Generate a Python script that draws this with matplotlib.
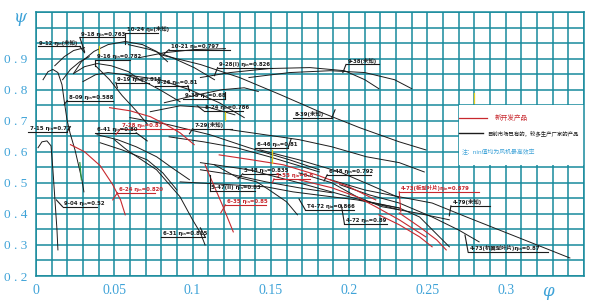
import matplotlib
matplotlib.use('Agg')
import matplotlib.pyplot as plt
import numpy as np

plt.rcParams['font.family'] = ['DejaVu Sans', 'Noto Sans CJK SC']

# fan performance curves (phi, psi)
f912a = ([0.012, 0.018, 0.024, 0.031], [0.877, 0.906, 0.926, 0.935])
f912b = ([0.017, 0.022, 0.028, 0.034], [0.832, 0.865, 0.890, 0.906])
f918 = ([0.024, 0.029, 0.037, 0.046, 0.057, 0.068, 0.077, 0.084],
        [0.852, 0.890, 0.923, 0.945, 0.955, 0.945, 0.923, 0.890])
f916 = ([0.024, 0.031, 0.039, 0.048, 0.059, 0.068], [0.852, 0.874, 0.884, 0.877, 0.858, 0.826])
f916b = ([0.038, 0.047, 0.055, 0.064, 0.071], [0.877, 0.832, 0.781, 0.732, 0.690])
f919 = ([0.030, 0.038, 0.046, 0.057, 0.068, 0.079, 0.092],
        [0.826, 0.848, 0.855, 0.848, 0.829, 0.800, 0.761])
f1021 = ([0.066, 0.082, 0.101, 0.121], [0.903, 0.919, 0.929, 0.932])
f1024 = ([0.059, 0.073, 0.087, 0.101, 0.114], [0.945, 0.929, 0.903, 0.871, 0.832])
f839 = ([0.079, 0.105, 0.130, 0.156, 0.181, 0.207, 0.232, 0.249],
        [0.913, 0.881, 0.839, 0.784, 0.729, 0.677, 0.632, 0.606])
f926 = ([0.057, 0.079, 0.098, 0.117, 0.133], [0.848, 0.832, 0.800, 0.758, 0.710])
f928 = ([0.105, 0.124, 0.149, 0.175, 0.197, 0.210, 0.219],
        [0.839, 0.855, 0.868, 0.871, 0.861, 0.832, 0.803])
f938 = ([0.136, 0.162, 0.188, 0.210, 0.229, 0.240], [0.839, 0.855, 0.861, 0.855, 0.832, 0.803])
f935 = ([0.082, 0.101, 0.119, 0.133, 0.142], [0.758, 0.781, 0.800, 0.806, 0.794])
f824 = ([0.073, 0.092, 0.111, 0.127], [0.729, 0.748, 0.742, 0.719])
f715 = ([0.0045, 0.0077, 0.0108, 0.0140, 0.0166, 0.0179, 0.0198, 0.0217, 0.0249, 0.0274, 0.0293, 0.0306],
        [0.832, 0.858, 0.865, 0.855, 0.816, 0.768, 0.703, 0.661, 0.606, 0.552, 0.510, 0.471])
f904 = ([0.0013, 0.0038, 0.0070, 0.0096, 0.0108, 0.0121, 0.0134, 0.0140],
        [0.613, 0.632, 0.635, 0.619, 0.542, 0.445, 0.348, 0.284])
f641a = ([0.039, 0.052, 0.064, 0.077, 0.087, 0.098], [0.655, 0.639, 0.616, 0.584, 0.548, 0.510])
f641b = ([0.041, 0.055, 0.071, 0.081, 0.090], [0.629, 0.606, 0.574, 0.532, 0.477])
f631 = ([0.050, 0.058, 0.077, 0.092, 0.100, 0.105, 0.108],
        [0.639, 0.606, 0.542, 0.455, 0.381, 0.339, 0.300])
f729 = ([0.060, 0.085, 0.111, 0.136, 0.162, 0.181], [0.710, 0.687, 0.655, 0.613, 0.574, 0.542])
f546 = ([0.085, 0.107, 0.128, 0.149, 0.170, 0.181], [0.648, 0.632, 0.613, 0.584, 0.552, 0.535])
f646 = ([0.124, 0.146, 0.168, 0.189, 0.211, 0.232, 0.248],
        [0.671, 0.655, 0.639, 0.616, 0.584, 0.565, 0.535])
f548 = ([0.105, 0.136, 0.168, 0.200, 0.232], [0.565, 0.542, 0.500, 0.455, 0.413])
f547b = ([0.105, 0.126, 0.147, 0.168, 0.189], [0.542, 0.526, 0.503, 0.484, 0.468])
f547a = ([0.114, 0.128, 0.141, 0.149, 0.160, 0.167], [0.558, 0.519, 0.503, 0.477, 0.439, 0.397])
f547 = ([0.092, 0.124, 0.147, 0.164, 0.189, 0.205, 0.232],
        [0.503, 0.494, 0.487, 0.471, 0.455, 0.445, 0.419])
f472 = ([0.168, 0.189, 0.205, 0.221, 0.243, 0.264], [0.532, 0.500, 0.455, 0.423, 0.403, 0.381])
f479 = ([0.188, 0.210, 0.232, 0.253, 0.275, 0.296, 0.317, 0.341],
        [0.510, 0.477, 0.455, 0.435, 0.390, 0.348, 0.306, 0.258])
f473w = ([0.194, 0.213, 0.232, 0.253, 0.270, 0.283], [0.494, 0.461, 0.435, 0.390, 0.348, 0.310])
f472b = ([0.207, 0.232, 0.245, 0.264], [0.445, 0.419, 0.390, 0.294])
f648 = ([0.143, 0.168, 0.194, 0.213, 0.232], [0.606, 0.574, 0.535, 0.494, 0.452])

r624 = ([0.022, 0.031, 0.041, 0.049, 0.054, 0.057], [0.623, 0.600, 0.555, 0.494, 0.445, 0.397])
r728 = ([0.047, 0.060, 0.073, 0.082, 0.092, 0.101], [0.742, 0.732, 0.713, 0.690, 0.661, 0.623])
r555 = ([0.117, 0.138, 0.158, 0.179, 0.200, 0.217], [0.590, 0.574, 0.558, 0.526, 0.487, 0.445])
r473a = ([0.168, 0.189, 0.205, 0.217, 0.232, 0.249], [0.510, 0.484, 0.455, 0.423, 0.381, 0.326])
r635 = ([0.108, 0.112, 0.119, 0.126], [0.558, 0.510, 0.429, 0.342])
r473b = ([0.232, 0.245, 0.256, 0.262], [0.403, 0.358, 0.316, 0.284])
r473c = ([0.219, 0.232, 0.245, 0.253], [0.397, 0.365, 0.326, 0.294])

black_curves = [f912a, f912b, f918, f916, f916b, f919, f1021, f1024, f839, f926, f928, f938,
                f935, f824, f715, f904, f641a, f641b, f631, f729, f546, f646, f548, f547b,
                f547a, f547, f472, f479, f473w, f472b, f648]
red_curves = [r624, r728, r555, r473a, r635, r473b, r473c]

# labels: text, underline start/end, underline height, leader end
lab_text = ['9-12 ηᵢₙ(未知)', '9-18 ηᵢₙ=0.763', '10-24 ηᵢₙ(未知)', '9-16 ηᵢₙ=0.782',
            '10-21 ηᵢₙ=0.797', '9-28(I) ηᵢₙ=0.826', '9-38(未知)', '9-19 ηᵢₙ=0.815',
            '9-26 ηᵢₙ=0.81', '9-35 ηᵢₙ=0.68', '8-24 ηᵢₙ=0.786', '8-39(未知)',
            '8-09 ηᵢₙ=0.588', '7-15 ηᵢₙ=0.72', '6-41 ηᵢₙ=0.80', '7-28 ηᵢₙ=0.87',
            '7-29(未知)', '6-46 ηᵢₙ=0.81', '5-48 ηᵢₙ=0.835', '5-55 ηᵢₙ=0.8',
            '6-48 ηᵢₙ=0.792', '5-47(II) ηᵢₙ=0.83', '6-35 ηᵢₙ=0.85', 'T4-72 ηᵢₙ=0.866',
            '4-72 ηᵢₙ=0.89', '4-73(板型叶片)ηᵢₙ=0.879', '4-79(未知)', '4-73(机翼型叶片)ηᵢₙ=0.87',
            '6-24 ηᵢₙ=0.820', '9-04 ηᵢₙ=0.52', '6-31 ηᵢₙ=0.815']
lab_x0 = [0.001, 0.028, 0.057, 0.038, 0.085, 0.116, 0.198, 0.051, 0.076, 0.094, 0.107, 0.164,
          0.020, -0.005, 0.038, 0.054, 0.100, 0.140, 0.132, 0.152, 0.186, 0.111, 0.121, 0.172,
          0.197, 0.232, 0.265, 0.276, 0.052, 0.017, 0.080]
lab_x1 = [0.028, 0.057, 0.078, 0.060, 0.124, 0.151, 0.219, 0.072, 0.097, 0.121, 0.132, 0.189,
          0.049, 0.020, 0.064, 0.098, 0.125, 0.161, 0.156, 0.175, 0.214, 0.140, 0.147, 0.203,
          0.224, 0.283, 0.290, 0.327, 0.076, 0.039, 0.108]
lab_y = [0.939, 0.968, 0.981, 0.897, 0.929, 0.871, 0.881, 0.823, 0.813, 0.771, 0.732, 0.710,
         0.765, 0.665, 0.661, 0.674, 0.674, 0.613, 0.529, 0.513, 0.526, 0.474, 0.429, 0.413,
         0.368, 0.471, 0.426, 0.277, 0.468, 0.423, 0.326]
lead_x = [0.031, 0.031, 0.057, 0.038, 0.082, 0.114, 0.196, 0.052, 0.098, 0.121, 0.103, 0.191,
          0.018, 0.022, 0.071, 0.051, 0.098, 0.163, 0.129, 0.151, 0.184, 0.111, 0.118, 0.168,
          0.195, 0.233, 0.264, 0.274, 0.049, 0.013, 0.105]
lead_y = [0.919, 0.923, 0.948, 0.877, 0.916, 0.845, 0.855, 0.806, 0.794, 0.794, 0.748, 0.735,
          0.752, 0.681, 0.635, 0.655, 0.658, 0.642, 0.513, 0.500, 0.506, 0.526, 0.403, 0.448,
          0.429, 0.406, 0.394, 0.332, 0.445, 0.445, 0.355]
lab_red = [15, 19, 22, 25, 28]

grid_c = '#178a9c'
tick_c = '#3fa3d8'
red_c = '#c8282e'
ink = '#1c1c1c'

fig = plt.figure(figsize=(6, 3.03), dpi=100)
ax = fig.add_axes([0.06, 0.0891, 0.9133, 0.8713])
ax.set_xlim(0, 0.35)
ax.set_ylim(0.2, 1.05)

xmaj = [0, 0.05, 0.1, 0.15, 0.2, 0.25, 0.3]
xlab = ['0', '0.05', '0.1', '0.15', '0.2', '0.25', '0.3']
ymaj = [0.2, 0.3, 0.4, 0.5, 0.6, 0.7, 0.8, 0.9]
ylab = ['0 . 2', '0 . 3', '0 . 4', '0 . 5', '0 . 6', '0 . 7', '0 . 8', '0 . 9']
ax.set_xticks(xmaj)
ax.set_xticklabels(xlab, family='Liberation Serif', fontsize=10, color=tick_c)
ax.set_yticks(ymaj)
ax.set_yticklabels(ylab, family='Liberation Serif', fontsize=9.5, color=tick_c)
ax.set_xticks(np.arange(0, 0.351, 0.01), minor=True)
ax.set_yticks(np.arange(0.2, 1.051, 0.05), minor=True)
ax.tick_params(which='both', length=0, pad=6)
ax.grid(which='both', color=grid_c, lw=1.1, zorder=0)
ax.set_axisbelow(True)
for s in ax.spines.values():
    s.set_color(grid_c)
    s.set_linewidth(1.1)

for xs, ys in black_curves:
    ax.plot(xs, ys, color=ink, lw=0.7, zorder=3)
for xs, ys in red_curves:
    ax.plot(xs, ys, color=red_c, lw=0.8, zorder=3)

# small coloured marks
ax.plot([0.040, 0.040], [0.939, 0.919], color='#e8d020', lw=0.9, zorder=3)
ax.plot([0.1205, 0.1205], [0.729, 0.703], color='#e8d020', lw=0.9, zorder=3)
ax.plot([0.1505, 0.1505], [0.606, 0.565], color='#e8d020', lw=0.9, zorder=3)
ax.plot([0.280, 0.280], [0.790, 0.758], color='#e8d020', lw=0.9, zorder=3)
ax.plot([0.028, 0.029], [0.565, 0.510], color='#2a9a40', lw=0.9, zorder=3)

for i, t in enumerate(lab_text):
    c = red_c if i in lab_red else ink
    x0, x1, y = lab_x0[i], lab_x1[i], lab_y[i]
    sx = x0 if abs(lead_x[i] - x0) <= abs(lead_x[i] - x1) else x1
    ax.plot([x0, x1], [y, y], color=c, lw=0.8, zorder=4, clip_on=False)
    ax.plot([sx, lead_x[i]], [y, lead_y[i]], color=c, lw=0.8, zorder=4, clip_on=False)
    ax.text(x0 + 0.001, y + 0.003, t, fontsize=3.9, fontweight='bold', color=c,
            va='bottom', ha='left', zorder=5, clip_on=False)

# legend box
ax.add_patch(plt.Rectangle((0.2704, 0.557), 0.08, 0.193, facecolor='white',
                           edgecolor='none', zorder=2))
ax.plot([0.2704, 0.2883], [0.710, 0.710], color=red_c, lw=0.9, zorder=4)
ax.text(0.2927, 0.710, '新开发产品', color=red_c, fontsize=4.8, va='center', zorder=5)
ax.plot([0.2704, 0.2857], [0.661, 0.661], color=ink, lw=1.0, zorder=4)
ax.text(0.2883, 0.661, '目前市场已有的，较多生产厂家的产品', color=ink, fontsize=3.9,
        va='center', zorder=5)
ax.text(0.272, 0.600, '注：nin值均为风机最高效率', color=tick_c, fontsize=4.2,
        va='center', zorder=5)

fig.text(20 / 600, 1 - 18 / 303, 'ψ', color=tick_c, fontsize=12, style='italic',
         family='DejaVu Serif', ha='center', va='center')
fig.text(548 / 600, 1 - 292 / 303, 'φ', color=tick_c, fontsize=12, style='italic',
         family='DejaVu Serif', ha='center', va='center')

fig.savefig('out.png', dpi=100, facecolor='white')
